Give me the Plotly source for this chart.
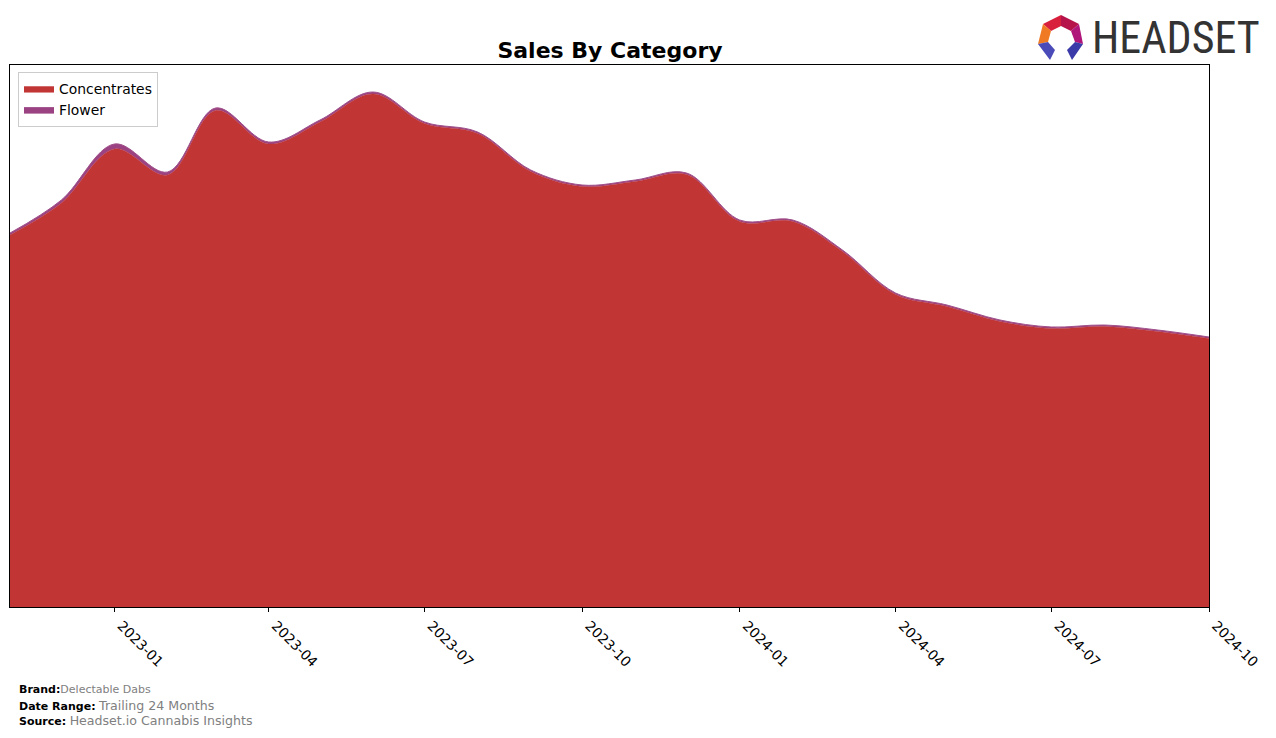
import plotly.graph_objects as go

months = ["2022-11-01", "2022-12-01", "2023-01-01", "2023-02-01", "2023-03-01", "2023-04-01",
          "2023-05-01", "2023-06-01", "2023-07-01", "2023-08-01", "2023-09-01", "2023-10-01",
          "2023-11-01", "2023-12-01", "2024-01-01", "2024-02-01", "2024-03-01", "2024-04-01",
          "2024-05-01", "2024-06-01", "2024-07-01", "2024-08-01", "2024-09-01", "2024-10-01"]

concentrates = [372, 404, 458, 432, 496.5, 463, 485, 513, 483.5, 473.5, 435.5, 420.5,
                425.5, 432.5, 385.5, 385.5, 355.5, 312.5, 300.5, 285.5, 278.5, 280.5, 275.5, 268.5]
flower = [2, 3, 5, 3, 2.5, 2, 2, 2, 1.5, 1.5, 1.5, 1.5,
          1.5, 1.5, 1.5, 1.5, 1.5, 1.5, 1.5, 1.5, 1.5, 1.5, 1.5, 1.5]

tick_vals = ["2023-01-01", "2023-04-01", "2023-07-01", "2023-10-01",
             "2024-01-01", "2024-04-01", "2024-07-01", "2024-10-01"]
tick_text = ["2023-01", "2023-04", "2023-07", "2023-10", "2024-01", "2024-04", "2024-07", "2024-10"]

W, H = 1276, 738
L, R, T, B = 10, 67, 65, 131
PW, PH = W - L - R, H - T - B


def px(x):
    return (x - L) / PW


def py(y):
    return (H - B - y) / PH


fig = go.Figure()
fig.add_trace(go.Scatter(
    x=months, y=concentrates, name="Concentrates", stackgroup="one", mode="lines",
    line=dict(color="#c13534", width=0.5, shape="spline", smoothing=1.0),
    fillcolor="#c13534"))
fig.add_trace(go.Scatter(
    x=months, y=flower, name="Flower", stackgroup="one", mode="lines",
    line=dict(color="#a0508a", width=1, shape="spline", smoothing=1.0),
    fillcolor="#9b4382"))

fig.update_layout(
    width=W, height=H,
    margin=dict(l=L, r=R, t=T, b=B, autoexpand=False),
    paper_bgcolor="white", plot_bgcolor="white",
    font=dict(family="DejaVu Sans", size=12, color="black"),
    title=dict(text="<b>Sales By Category</b>", x=px(610), xref="paper", xanchor="center",
               y=1 - 50 / H, yanchor="middle", font=dict(size=22, family="DejaVu Sans", color="black")),
    showlegend=True,
    legend=dict(x=px(18), y=py(72), xanchor="left", yanchor="top",
                bgcolor="rgba(255,255,255,0.8)", bordercolor="#cccccc", borderwidth=1,
                font=dict(size=13.9, family="DejaVu Sans"), tracegroupgap=0,
                traceorder="normal", itemwidth=30),
    xaxis=dict(type="date", range=["2022-11-01", "2024-10-01"], tickmode="array",
               tickvals=tick_vals, ticktext=tick_text, tickangle=45, ticks="outside",
               ticklen=4, tickcolor="black", showgrid=False, showline=True, linecolor="black",
               linewidth=1, mirror=True, zeroline=False, ticklabelshift=7,
               tickfont=dict(size=13.9, family="DejaVu Sans", color="black")),
    yaxis=dict(range=[0, 542], showticklabels=False, ticks="", showgrid=False, showline=True,
               linecolor="black", linewidth=1, mirror=True, zeroline=False),
)

# footer
fig.add_annotation(x=px(17), y=py(689), xref="paper", yref="paper", xanchor="left", yanchor="middle",
                   text="<b>Brand:</b><span style='color:#808080;font-size:11px'>Delectable Dabs</span>",
                   showarrow=False, font=dict(size=11, family="DejaVu Sans", color="black"))
fig.add_annotation(x=px(17), y=py(705), xref="paper", yref="paper", xanchor="left", yanchor="middle",
                   text="<b>Date Range:</b> <span style='color:#808080;font-size:12.6px'>Trailing 24 Months</span>",
                   showarrow=False, font=dict(size=11, family="DejaVu Sans", color="black"))
fig.add_annotation(x=px(17), y=py(720), xref="paper", yref="paper", xanchor="left", yanchor="middle",
                   text="<b>Source:</b> <span style='color:#808080;font-size:12.6px'>Headset.io Cannabis Insights</span>",
                   showarrow=False, font=dict(size=11, family="DejaVu Sans", color="black"))

# logo text
fig.add_annotation(x=px(1090), y=py(38), xref="paper", yref="paper", xanchor="left", yanchor="middle",
                   text="HEADSET", showarrow=False,
                   font=dict(size=44, family="Liberation Sans Narrow, Roboto Condensed, Roboto", color="#333333"))


def poly(points, color):
    d = "M " + " L ".join(f"{px(a)},{py(b)}" for a, b in points) + " Z"
    fig.add_shape(type="path", path=d, xref="paper", yref="paper", fillcolor=color, line=dict(width=0))


# logo icon (ring of facets)
poly([(1043, 24), (1061, 15), (1061, 26), (1051, 31)], "#d81f3c")
poly([(1061, 15), (1079, 24), (1071, 31), (1061, 26)], "#b5134a")
poly([(1079, 24), (1083, 44), (1075, 42), (1071, 31)], "#b0167a")
poly([(1043, 24), (1051, 31), (1048, 42), (1038, 44)], "#f07a24")
poly([(1038, 44), (1048, 42), (1055, 50), (1050, 60)], "#4a4ab8")
poly([(1083, 44), (1075, 42), (1067, 50), (1072, 60)], "#3a3aa8")

fig.write_html("out.html")
